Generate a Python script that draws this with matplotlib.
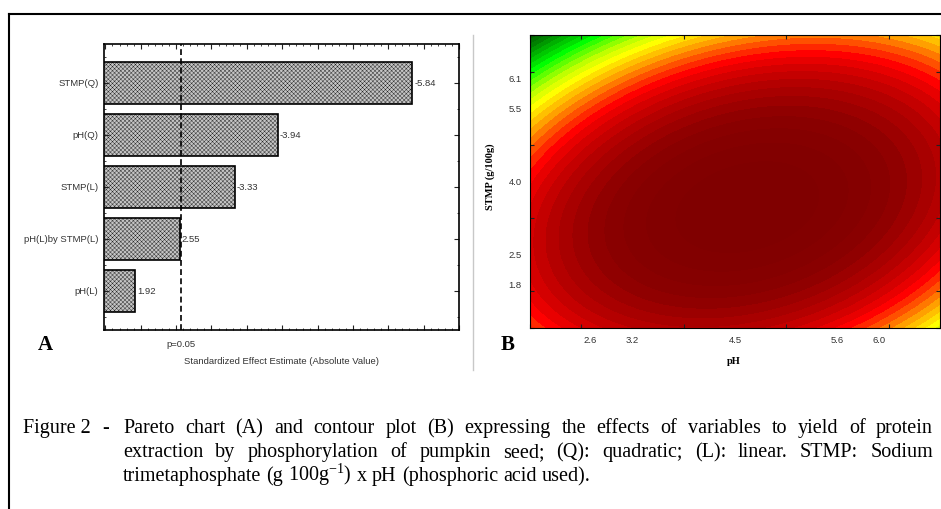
import numpy as np
import matplotlib
matplotlib.use('Agg')
import matplotlib.pyplot as plt
from matplotlib.colors import ListedColormap
from matplotlib.lines import Line2D

# pareto chart data (standardized effects, t values)
terms = ['STMP(Q)', 'pH(Q)', 'STMP(L)', 'pH(L)by STMP(L)', 'pH(L)']
effects = [-5.84, -3.94, -3.33, 2.55, 1.92]
p_crit = 2.57

# contour plot: quadratic model in coded units (x = pH, y = STMP)
b0, b1, b2 = -0.434, 0.99, -2.137
b11, b22, b12 = -2.23, -2.83, 1.3
ph_coded = [-1.41, -1.0, 0.0, 1.0, 1.41]
ph_labels = ['2.6', '3.2', '4.5', '5.6', '6.0']
stmp_coded = [-1.41, -1.0, 0.0, 1.0, 1.41]
stmp_labels = ['1.8', '2.5', '4.0', '5.5', '6.1']

# band colours from the optimum outwards
band_colors = ['#800000', '#820000', '#850000', '#890000', '#900000', '#9c0000',
               '#a80000', '#b40000', '#c40000', '#d40000', '#e80000', '#ff0000',
               '#ff2800', '#ff5000', '#ff7800', '#ffa000', '#ffc000', '#ffe000',
               '#ffff00', '#e0ff00', '#c0ff00', '#90ff00', '#60ff00', '#30ff00',
               '#00ff00', '#00e000', '#00c800', '#00b000', '#009800', '#008000',
               '#007000', '#006000', '#005800', '#005000']

W, H = 941, 509
fig = plt.figure(figsize=(W / 100, H / 100), dpi=100)
fig.patch.set_facecolor('white')


def px_axes(x0, y0, x1, y1):
    return fig.add_axes([x0 / W, 1 - y1 / H, (x1 - x0) / W, (y1 - y0) / H])


sans = 'Liberation Sans'
serif = 'Liberation Serif'
plt.rcParams['mathtext.fontset'] = 'custom'
plt.rcParams['mathtext.rm'] = serif
plt.rcParams['hatch.color'] = '#a2a2a2'
plt.rcParams['hatch.linewidth'] = 0.25

# ---------- panel A ----------
axA = px_axes(104, 44, 459, 330)
pos = np.arange(len(terms))
axA.barh(pos, np.abs(effects), height=0.8, left=0, color='#c4c4c4',
         edgecolor='black', linewidth=1.2, hatch='xxxxxxxx')
for p, v in zip(pos, effects):
    axA.annotate(f'{v:.2f}', (abs(v), p), xytext=(1.5, 0), textcoords='offset points',
                 ha='left', va='center', fontsize=6.8, family=sans, color='#333333')
axA.axvline(p_crit, color='black', linestyle=(0, (3.5, 2)), linewidth=1.2)
axA.set_xlim(1.48, 6.49)
axA.set_ylim(len(terms) - 0.25, -0.75)
axA.set_yticks(pos)
axA.set_yticklabels(terms, fontsize=6.8, family=sans, color='#333333')
axA.set_yticks(np.arange(-0.5, len(terms), 0.5), minor=True)
axA.set_xticks(np.arange(1.5, 6.6, 0.5))
axA.set_xticklabels([])
axA.set_xticks(np.arange(1.5, 6.5, 0.1), minor=True)
axA.tick_params(which='both', direction='in', top=True, right=True, color='#222222')
axA.tick_params(which='major', length=3.5, width=0.8, pad=4)
axA.tick_params(which='minor', length=1.5, width=0.6)
for s in axA.spines.values():
    s.set_linewidth(1.2)
axA.text(p_crit, -0.035, 'p=0.05', transform=axA.get_xaxis_transform(),
         ha='center', va='top', fontsize=6.8, family=sans, color='#333333')
fig.text(281 / W, 1 - 361 / H, 'Standardized Effect Estimate (Absolute Value)',
         ha='center', va='center', fontsize=6.8, family=sans, color='#333333')
fig.text(45 / W, 1 - 345 / H, 'A', ha='center', va='center', fontsize=15,
         family=serif, weight='bold')

# ---------- panel B ----------
axB = px_axes(530, 35, 940, 328)
gx, gy = np.meshgrid(np.linspace(-2, 2, 400), np.linspace(-2, 2, 400))
z = b0 + b1 * gx + b2 * gy + b11 * gx ** 2 + b22 * gy ** 2 + b12 * gx * gy
zmax = z.max()
levels = zmax - np.arange(len(band_colors), -1, -1) * 1.0
levels[-1] = zmax + 0.01
cmap = ListedColormap(band_colors[::-1])
cmap.set_under(band_colors[-1])
cs = axB.contourf(gx, gy, z, levels=levels, cmap=cmap, extend='min')
cs.set_edgecolor('face')
cs.set_linewidth(0.4)
axB.set_xlim(-2, 2)
axB.set_ylim(-2, 2)
axB.set_xticks(ph_coded)
axB.set_xticklabels(ph_labels, fontsize=6.8, family=sans, color='#333333')
axB.set_yticks(stmp_coded)
axB.set_yticklabels(stmp_labels, fontsize=6.8, family=sans, color='#333333')
axB.set_xticks(np.arange(-2, 2.01, 0.5), minor=True)
axB.set_yticks(np.arange(-2, 2.01, 0.5), minor=True)
axB.tick_params(which='major', length=0, pad=6)
axB.tick_params(which='minor', direction='in', length=3, width=0.8,
                top=True, right=True, color='#222222')
for s in axB.spines.values():
    s.set_linewidth(0.8)
fig.text(490 / W, 1 - 177 / H, 'STMP (g/100g)', rotation=90, ha='center', va='center',
         fontsize=7.5, family=serif, weight='bold')
fig.text(734 / W, 1 - 362 / H, 'pH', ha='center', va='center',
         fontsize=7.5, family=serif, weight='bold')
fig.text(508 / W, 1 - 345 / H, 'B', ha='center', va='center', fontsize=15,
         family=serif, weight='bold')

# frame and separator
fig.add_artist(Line2D([9 / W, 1], [1 - 14 / H, 1 - 14 / H], color='black', lw=1.5))
fig.add_artist(Line2D([9 / W, 9 / W], [0, 1 - 14 / H], color='black', lw=1.5))
fig.add_artist(Line2D([473 / W, 473 / W], [1 - 370 / H, 1 - 35 / H], color='#c8c8c8', lw=1))

# ---------- caption ----------
cap_kw = dict(fontsize=14.5, family=serif, va='baseline', color='black')
renderer = fig.canvas.get_renderer()


def put_line(text, x0, x1, ybase, justify=True):
    words = text.split(' ')
    arts = [fig.text(0, 1 - ybase / H, w, **cap_kw) for w in words]
    widths = [a.get_window_extent(renderer).width for a in arts]
    gap = arts[0].get_fontsize() * 0.25 * 100 / 72
    if justify and len(words) > 1:
        gap = max((x1 - x0 - sum(widths)) / (len(words) - 1), 2.0)
    x = x0
    for a, w in zip(arts, widths):
        a.set_x(x / W)
        x += w + gap


fig.text(23 / W, 1 - 433 / H, 'Figure 2', **cap_kw)
fig.text(102 / W, 1 - 433 / H, '-', **cap_kw)
put_line('Pareto chart (A) and contour plot (B) expressing the effects of variables to yield of protein',
         123, 933, 433)
put_line('extraction by phosphorylation of pumpkin seed; (Q): quadratic; (L): linear. STMP: Sodium',
         123, 933, 457)
put_line(r'trimetaphosphate (g 100g$^{\mathregular{-1}}$) x pH (phosphoric acid used).',
         123, 933, 481, justify=False)

fig.savefig('out.png', dpi=100)
